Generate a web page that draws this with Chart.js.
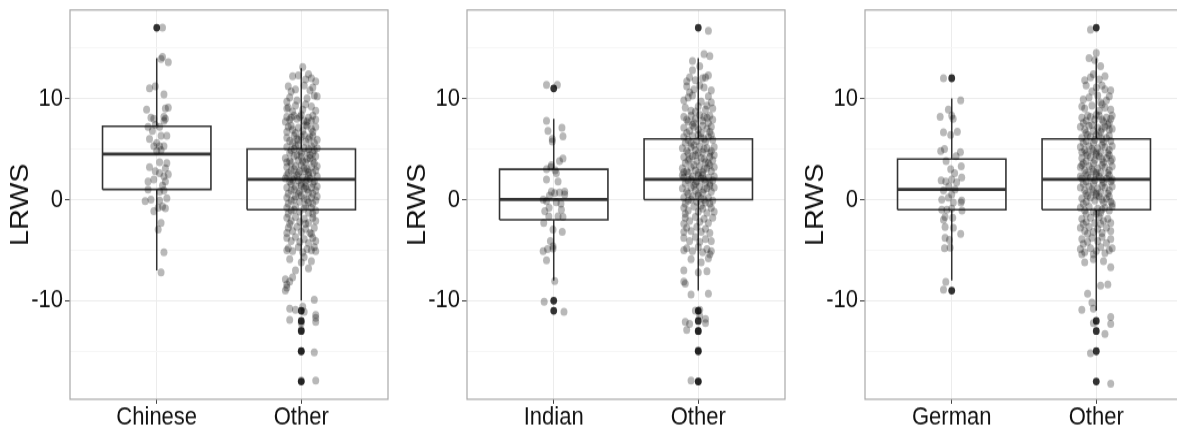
<!DOCTYPE html>
<html>
<head>
<meta charset="utf-8">
<script src="https://cdn.jsdelivr.net/npm/chart.js@4"></script>
<style>
  html, body { margin: 0; padding: 0; background: #fff; width: 1177px; height: 428px; overflow: hidden; position: relative; }
  canvas { position: absolute; top: 0; transform: scaleY(1.1505); transform-origin: 0 0; }
</style>
</head>
<body>
<canvas id="panel1" width="392" height="372" style="left:0px"></canvas>
<canvas id="panel2" width="392" height="372" style="left:397px"></canvas>
<canvas id="panel3" width="392" height="372" style="left:795px"></canvas>
<script>
const TICK_FONT = "'Liberation Sans', Arial, sans-serif";

// categories of each panel
const panelGroups = [['Chinese', 'Other'], ['Indian', 'Other'], ['German', 'Other']];

// box statistics: [group, Other] for each panel
const lowerWhisker = [[-7, -10], [-8, -9], [-8, -11]];
const lowerHinge = [[1, -1], [-2, 0], [-1, -1]];
const medians = [[4.5, 2], [0, 2], [1, 2]];
const upperHinge = [[7.25, 5], [3, 6], [4, 6]];
const upperWhisker = [[14, 13], [8, 14], [10, 14]];
const outliers = [
  [[17], [-11, -12, -13, -15, -18]],
  [[11, -10, -11], [17, -11, -12, -13, -15, -18]],
  [[12, -9], [17, -12, -13, -15, -18]]
];

const yTicks = [-15, -10, -5, 0, 5, 10, 15];

// jittered observations: [x offset, LRWS]
const chineseJitter = [
  [0.04,17.0],[0.04,14.1],[0.03,13.9],[0.08,13.6],[-0.05,11.0],[-0.01,11.2],[0.05,10.4],[-0.07,8.9],[0.06,9.0],[0.08,9.1],
  [-0.04,8.1],[-0.02,8.0],[0.05,8.2],[0.06,8.0],[-0.06,7.2],[-0.01,7.4],[0.02,7.2],[0.05,7.8],[-0.03,6.8],[-0.05,6.0],
  [0.03,6.3],[0.07,6.3],[0.0,5.6],[-0.02,5.3],[0.02,5.3],[0.05,5.3],[0.0,4.8],[0.03,4.9],[0.02,3.7],[0.07,3.6],
  [0.06,3.1],[-0.05,3.2],[-0.01,2.8],[0.02,2.6],[0.08,2.5],[0.05,2.3],[-0.06,1.8],[-0.02,2.0],[0.06,1.8],[0.04,1.4],
  [-0.06,1.0],[0.02,0.8],[0.05,0.9],[-0.08,-0.15],[-0.04,0.0],[0.02,-0.1],[0.07,0.15],[-0.02,-1.15],[0.01,-0.8],[0.04,-0.7],
  [0.06,-0.85],[0.03,-2.3],[0.01,-2.95],[0.05,-5.2],[0.03,-7.2]
];
const otherChineseJitter = [
  [0.01,13.1],
  [-0.06,12.2],[0.03,11.9],[0.07,12.0],[-0.02,12.3],[0.1,11.7],[0.05,12.4],
  [-0.09,11.2],[-0.04,10.9],[0.08,11.1],[0.02,11.3],[-0.07,10.7],[0.06,10.8],
  [-0.08,10.1],[0.09,10.3],[0.11,10.2],[-0.03,9.8],[0.04,10.0],[-0.1,9.7],
  [-0.09,9.1],[-0.04,9.3],[0.01,8.9],[0.07,9.2],[0.1,8.8],[-0.06,8.7],[0.03,9.4],[-0.1,9.0],
  [-0.1,8.2],[-0.08,7.9],[-0.05,8.3],[-0.03,8.0],[0.0,8.4],[0.02,7.8],[0.05,8.1],[0.08,8.3],[0.1,7.9],[-0.07,8.1],[0.04,7.7],[-0.01,8.2],[0.07,7.8],[-0.11,7.7],
  [-0.09,7.2],[-0.06,6.9],[-0.02,7.1],[0.01,6.8],[0.04,7.3],[0.07,7.0],[0.1,7.2],[-0.1,6.7],[0.03,7.4],[-0.04,6.6],[0.08,6.7],[-0.07,7.3],
  [-0.1,6.1],[-0.08,5.8],[-0.05,6.3],[-0.02,5.9],[0.0,6.2],[0.03,5.7],[0.05,6.0],[0.08,6.3],[0.11,5.9],[-0.06,5.6],[0.02,6.4],[0.09,5.6],[-0.03,6.0],[0.06,6.2],
  [-0.1,5.2],[-0.07,4.9],[-0.04,5.3],[-0.01,4.8],[0.02,5.1],[0.04,4.7],[0.07,5.3],[0.09,4.9],[0.11,5.1],[-0.08,4.6],[-0.02,5.4],[0.05,5.0],[0.0,4.6],[-0.05,5.0],[0.08,4.6],
  [-0.11,4.1],[-0.08,3.8],[-0.05,4.3],[-0.02,3.9],[0.0,4.2],[0.03,3.7],[0.06,4.1],[0.08,3.9],[0.1,4.3],[-0.07,3.6],[-0.03,4.4],[0.04,4.0],[0.09,3.6],[-0.1,3.7],[0.01,3.8],[0.06,4.4],
  [-0.1,3.2],[-0.07,2.9],[-0.04,3.3],[-0.01,2.8],[0.02,3.1],[0.05,2.7],[0.07,3.2],[0.1,2.9],[-0.09,2.6],[-0.05,3.0],[0.0,3.4],[0.04,3.0],[0.08,2.6],[-0.02,2.6],[0.11,3.3],[0.03,2.8],
  [-0.11,2.1],[-0.08,1.8],[-0.05,2.3],[-0.02,1.9],[0.01,2.2],[0.03,1.7],[0.06,2.1],[0.09,1.8],[0.11,2.3],[-0.07,1.6],[-0.03,2.4],[0.04,2.0],[0.08,1.6],[-0.1,2.4],[0.0,1.6],[0.05,2.4],[-0.06,2.0],
  [-0.1,1.2],[-0.07,0.9],[-0.04,1.3],[-0.01,0.8],[0.02,1.1],[0.05,0.7],[0.07,1.2],[0.1,0.9],[-0.09,0.6],[-0.05,1.0],[0.0,1.4],[0.04,1.0],[0.08,0.6],[-0.02,0.6],[0.11,1.3],[0.03,1.3],
  [-0.1,0.2],[-0.07,-0.1],[-0.04,0.3],[-0.01,-0.2],[0.02,0.1],[0.05,-0.3],[0.07,0.2],[0.1,-0.1],[-0.09,-0.4],[-0.05,0.0],[0.0,0.4],[0.04,0.0],[0.08,-0.4],[0.11,0.3],
  [-0.1,-0.8],[-0.07,-1.1],[-0.04,-0.7],[-0.01,-1.2],[0.02,-0.9],[0.05,-1.3],[0.07,-0.8],[0.1,-1.1],[-0.09,-1.4],[-0.05,-1.0],[0.03,-0.6],[0.08,-1.4],
  [-0.1,-1.8],[-0.07,-2.1],[-0.04,-1.7],[-0.01,-2.2],[0.02,-1.9],[0.05,-2.3],[0.08,-1.8],[0.1,-2.1],[-0.08,-2.4],[0.03,-2.4],
  [-0.09,-2.8],[-0.06,-3.1],[-0.03,-2.7],[0.0,-3.2],[0.03,-2.9],[0.06,-3.3],[0.09,-2.8],[-0.1,-3.3],[0.07,-3.4],
  [-0.1,-3.8],[-0.07,-4.1],[-0.04,-3.7],[-0.01,-4.2],[0.02,-3.9],[0.05,-4.3],[0.08,-3.8],[0.1,-4.1],
  [-0.09,-4.8],[-0.06,-5.1],[-0.02,-4.7],[0.01,-5.2],[0.04,-4.9],[0.07,-5.0],[0.1,-5.1],[-0.1,-5.0],[0.09,-4.7],
  [-0.08,-5.9],[0.0,-6.2],[0.02,-5.7],[0.07,-6.1],
  [0.05,-6.8],[-0.04,-7.0],
  [-0.11,-7.9],[-0.08,-8.1],[-0.1,-8.4],[-0.06,-7.7],
  [-0.11,-9.0],[-0.1,-8.7],
  [0.09,-9.9],
  [-0.08,-10.8],[-0.04,-10.9],[0.02,-11.1],[0.01,-10.6],[0.1,-11.4],
  [-0.08,-11.9],[0.0,-12.2],[0.1,-12.1],[0.1,-11.7],
  [0.0,-12.9],
  [0.09,-15.1],[0.0,-15.0],
  [0.0,-17.9],[0.1,-17.9]
];
const indianJitter = [
  [-0.05,11.35],[0.025,11.35],[-0.05,7.8],[-0.04,6.8],[0.057,7.1],[0.064,6.25],[-0.01,6.0],[-0.01,5.75],[0.064,4.05],[0.04,3.8],
  [-0.016,3.4],[-0.02,3.2],[-0.05,3.0],[0.01,2.9],[0.018,2.6],[-0.05,2.0],[0.03,1.8],[-0.016,0.8],[0.007,0.65],[0.04,0.7],
  [0.076,0.8],[0.076,0.5],[-0.03,0.4],[-0.073,0.0],[-0.05,-0.15],[0.018,-0.25],[0.05,-0.4],[-0.032,-0.8],[0.053,-1.0],[-0.062,-1.15],
  [-0.034,-1.65],[0.03,-1.65],[0.064,-1.7],[-0.069,-2.3],[-0.005,-2.95],[0.059,-3.2],[-0.023,-4.1],[-0.005,-4.6],[-0.073,-5.1],[-0.043,-4.9],
  [-0.005,-4.85],[-0.05,-6.0],[0.007,-8.05],[-0.066,-10.1],[0.071,-11.1]
];
const otherIndianJitter = [
  [0.07,16.7],
  [0.04,14.4],[0.08,14.2],[-0.04,13.7],
  [-0.04,12.8],[0.01,13.2],
  [-0.06,12.1],[0.03,12.0],[0.05,12.1],[-0.02,11.8],[-0.08,11.7],[0.07,12.3],
  [-0.08,11.2],[-0.03,10.9],[0.04,11.1],[0.09,10.8],[-0.06,10.6],[0.01,11.3],
  [-0.07,10.1],[0.07,10.2],[-0.1,9.8],[0.02,9.7],[0.09,9.6],[-0.04,10.3],
  [-0.09,9.1],[-0.05,8.8],[0.0,9.2],[0.05,8.9],[0.1,9.0],[-0.02,8.7],[0.06,9.3],
  [-0.1,8.2],[-0.08,7.9],[-0.05,8.3],[-0.02,8.0],[0.01,8.4],[0.03,7.8],[0.06,8.1],[0.08,8.3],[0.1,7.9],[-0.07,7.7],[0.04,8.2],[-0.03,7.6],[0.07,7.6],
  [-0.1,7.1],[-0.06,6.8],[-0.03,7.2],[0.0,6.9],[0.03,7.3],[0.06,7.0],[0.09,7.2],[-0.08,6.6],[0.02,6.6],[-0.04,7.4],[0.08,6.7],
  [-0.1,6.2],[-0.07,5.9],[-0.04,6.3],[-0.01,5.8],[0.02,6.1],[0.05,5.7],[0.07,6.2],[0.1,5.9],[-0.09,5.6],[0.0,6.4],[0.04,6.0],[-0.05,5.6],[0.09,6.4],
  [-0.11,5.1],[-0.08,4.8],[-0.05,5.2],[-0.02,4.9],[0.01,5.3],[0.03,4.7],[0.06,5.1],[0.09,4.8],[0.11,5.2],[-0.07,4.6],[-0.03,5.4],[0.04,5.0],[0.0,4.6],[0.08,4.6],
  [-0.1,4.2],[-0.07,3.9],[-0.04,4.3],[-0.01,3.8],[0.02,4.1],[0.05,3.7],[0.08,4.2],[0.1,3.9],[-0.09,3.6],[-0.02,4.4],[0.04,4.0],[0.07,3.6],[-0.06,4.0],[0.11,4.4],
  [-0.11,3.1],[-0.08,2.8],[-0.05,3.2],[-0.02,2.9],[0.01,3.3],[0.03,2.7],[0.06,3.1],[0.09,2.8],[0.11,3.2],[-0.07,2.6],[-0.03,3.4],[0.04,3.0],[0.0,2.6],[0.08,3.4],[-0.1,2.7],
  [-0.1,2.2],[-0.07,1.9],[-0.04,2.3],[-0.01,1.8],[0.02,2.1],[0.05,1.7],[0.07,2.2],[0.1,1.9],[-0.09,1.6],[-0.05,2.0],[0.0,2.4],[0.04,2.0],[0.08,1.6],[-0.02,1.6],[0.11,2.3],[0.03,2.4],[-0.11,2.4],
  [-0.11,1.1],[-0.08,0.8],[-0.05,1.2],[-0.02,0.9],[0.01,1.3],[0.03,0.7],[0.06,1.1],[0.09,0.8],[0.11,1.2],[-0.07,0.6],[-0.03,1.4],[0.04,1.0],[0.0,0.6],[0.08,1.4],
  [-0.1,0.2],[-0.07,-0.1],[-0.04,0.3],[-0.01,-0.2],[0.02,0.1],[0.05,-0.3],[0.07,0.2],[0.1,-0.1],[-0.09,-0.4],[-0.05,0.0],[0.0,0.4],[0.04,0.0],[0.08,-0.4],
  [-0.1,-0.8],[-0.07,-1.1],[-0.03,-0.7],[0.0,-1.2],[0.03,-0.9],[0.06,-1.3],[0.09,-0.8],[-0.09,-1.4],[0.02,-0.6],[0.11,-1.2],
  [-0.09,-1.8],[-0.06,-2.1],[-0.02,-1.7],[0.01,-2.2],[0.04,-1.9],[0.07,-2.3],[0.1,-1.8],[-0.1,-2.4],
  [-0.08,-2.8],[-0.05,-3.1],[-0.01,-2.7],[0.02,-3.2],[0.05,-2.9],[0.08,-3.3],[-0.1,-3.2],
  [-0.1,-3.8],[-0.06,-4.1],[-0.02,-3.7],[0.01,-4.2],[0.05,-3.9],[0.09,-4.1],
  [-0.08,-4.8],[-0.04,-5.1],[0.0,-4.7],[0.03,-5.2],[0.06,-4.9],[0.09,-5.1],[-0.1,-5.0],[0.08,-5.4],
  [-0.05,-5.9],[0.02,-6.2],[0.07,-5.8],
  [-0.1,-7.0],[0.0,-7.2],[0.06,-7.1],
  [-0.1,-8.1],[-0.09,-8.3],
  [0.07,-9.3],[-0.05,-9.4],
  [0.01,-10.9],[-0.02,-11.0],[0.05,-11.8],[0.01,-11.5],
  [-0.09,-12.1],[-0.06,-12.3],[0.05,-12.2],[-0.08,-12.9],
  [0.0,-13.0],
  [0.0,-14.9],
  [-0.05,-17.9],[0.0,-18.0]
];
const germanJitter = [
  [-0.057,12.0],[0.062,9.8],[-0.023,8.9],[-0.08,8.2],[0.0,8.3],[0.01,8.0],[-0.057,6.65],[0.039,6.7],[-0.007,6.4],[-0.076,4.8],
  [-0.05,5.0],[0.06,4.7],[0.03,4.3],[-0.039,3.8],[-0.007,3.0],[0.066,3.3],[0.02,2.6],[-0.073,1.9],[-0.041,1.8],[0.0,2.0],
  [0.034,1.7],[0.069,2.2],[-0.02,1.3],[-0.057,0.9],[0.0,0.5],[0.023,1.0],[-0.069,0.0],[-0.023,0.2],[0.011,-0.3],[0.069,-0.1],
  [0.064,-0.3],[-0.069,-1.0],[-0.034,-1.0],[0.0,-0.9],[0.071,-1.1],[-0.046,-1.7],[-0.057,-2.0],[0.007,-1.8],[-0.046,-2.7],[0.011,-2.8],
  [0.062,-3.4],[-0.046,-3.8],[-0.016,-4.0],[-0.05,-4.8],[-0.011,-4.75],[-0.041,-8.15],[-0.057,-8.9]
];
const otherGermanJitter = [
  [-0.04,16.8],
  [0.0,14.5],[-0.05,14.0],[-0.01,13.8],
  [0.03,13.2],
  [-0.02,12.4],[-0.08,11.8],[-0.04,12.1],[0.02,11.9],[0.06,12.2],
  [-0.07,11.3],[0.0,11.1],[0.06,10.9],[0.1,10.8],[-0.03,10.7],[0.04,11.3],
  [-0.09,9.9],[-0.05,10.1],[0.01,10.3],[0.07,9.8],[0.09,10.2],[0.03,9.6],
  [-0.08,9.0],[-0.03,9.3],[0.02,8.8],[0.06,9.1],[0.1,8.9],[-0.1,9.2],[0.04,9.4],
  [-0.1,8.1],[-0.07,7.8],[-0.04,8.2],[-0.01,7.9],[0.02,8.3],[0.05,7.7],[0.07,8.1],[0.1,8.0],[-0.09,7.6],[0.0,8.4],[0.04,7.9],[-0.06,8.3],[0.09,7.6],[0.11,8.3],
  [-0.11,7.2],[-0.08,6.9],[-0.05,7.3],[-0.02,6.8],[0.01,7.1],[0.03,6.7],[0.06,7.2],[0.09,6.9],[0.11,7.0],[-0.07,6.6],[-0.03,7.4],[0.04,7.0],[0.08,7.4],
  [-0.1,6.1],[-0.07,5.8],[-0.04,6.2],[-0.01,5.9],[0.02,6.3],[0.05,5.7],[0.07,6.1],[0.1,5.8],[-0.09,5.6],[0.0,6.4],[0.04,6.0],[-0.06,6.4],[0.09,6.3],[-0.02,5.6],
  [-0.11,5.2],[-0.08,4.9],[-0.05,5.3],[-0.02,4.8],[0.01,5.1],[0.03,4.7],[0.06,5.2],[0.09,4.9],[0.11,5.3],[-0.07,4.6],[-0.03,5.0],[0.04,5.4],[0.0,4.6],[0.08,4.6],[-0.1,4.7],
  [-0.1,4.1],[-0.07,3.8],[-0.04,4.2],[-0.01,3.9],[0.02,4.3],[0.05,3.7],[0.07,4.1],[0.1,3.8],[-0.09,3.6],[0.0,4.4],[0.04,4.0],[-0.06,4.4],[0.09,4.4],[-0.02,3.6],[0.11,4.0],
  [-0.11,3.2],[-0.08,2.9],[-0.05,3.3],[-0.02,2.8],[0.01,3.1],[0.03,2.7],[0.06,3.2],[0.09,2.9],[0.11,3.3],[-0.07,2.6],[-0.03,3.0],[0.04,3.4],[0.0,2.6],[0.08,2.6],[-0.1,3.4],
  [-0.1,2.1],[-0.07,1.8],[-0.04,2.2],[-0.01,1.9],[0.02,2.3],[0.05,1.7],[0.07,2.1],[0.1,1.8],[-0.09,1.6],[0.0,2.4],[0.04,2.0],[-0.06,2.4],[0.09,2.4],[-0.02,1.6],[0.11,2.0],[-0.11,2.3],
  [-0.11,1.2],[-0.08,0.9],[-0.05,1.3],[-0.02,0.8],[0.01,1.1],[0.03,0.7],[0.06,1.2],[0.09,0.9],[0.11,1.3],[-0.07,0.6],[-0.03,1.0],[0.04,1.4],[0.0,0.6],[0.08,0.6],
  [-0.1,0.1],[-0.07,-0.2],[-0.04,0.2],[-0.01,-0.1],[0.02,0.3],[0.05,-0.3],[0.07,0.1],[0.1,-0.2],[-0.09,-0.4],[0.0,0.4],[0.04,0.0],[-0.06,0.4],[0.09,0.3],[0.11,-0.4],
  [-0.11,-0.8],[-0.08,-1.1],[-0.05,-0.7],[-0.02,-1.2],[0.01,-0.9],[0.03,-1.3],[0.06,-0.8],[0.09,-1.1],[0.11,-0.7],[-0.07,-1.4],[0.04,-1.0],[0.0,-1.4],
  [-0.1,-1.9],[-0.07,-2.2],[-0.04,-1.8],[-0.01,-2.3],[0.02,-1.7],[0.05,-2.1],[0.08,-1.9],[0.1,-2.3],[-0.09,-2.4],[0.03,-2.4],
  [-0.11,-2.8],[-0.08,-3.1],[-0.05,-2.7],[-0.02,-3.2],[0.01,-2.9],[0.04,-3.3],[0.07,-2.8],[0.1,-3.1],[-0.06,-3.4],
  [-0.1,-3.9],[-0.06,-4.2],[-0.03,-3.8],[0.01,-4.1],[0.04,-3.7],[0.07,-4.3],[0.1,-3.9],[-0.09,-4.4],
  [-0.11,-4.9],[-0.08,-5.2],[-0.04,-4.8],[0.0,-5.1],[0.03,-4.7],[0.06,-5.3],[0.09,-5.0],[-0.02,-5.4],[0.11,-4.8],[-0.1,-5.4],
  [-0.08,-6.2],[-0.02,-5.9],[0.05,-6.1],[0.1,-6.7],
  [0.03,-8.5],[0.08,-8.4],
  [-0.06,-9.3],
  [-0.03,-10.2],
  [-0.1,-10.9],[-0.02,-10.8],
  [-0.02,-12.2],[0.1,-11.6],[0.1,-12.3],
  [0.06,-13.3],
  [-0.04,-15.2],
  [0.1,-18.2]
];

const panelJitter = [
  [chineseJitter, otherChineseJitter],
  [indianJitter, otherIndianJitter],
  [germanJitter, otherGermanJitter]
];

const BOX_WIDTH = 0.75;
const LINE_COLOR = '#333333';

// border around each plotting panel
const panelFrame = {
  id: 'panelFrame',
  afterDatasetsDraw(chart) {
    const { ctx, chartArea: a } = chart;
    ctx.save();
    ctx.strokeStyle = '#a9a9a9';
    ctx.lineWidth = 1.2;
    ctx.strokeRect(a.left, a.top, a.right - a.left, a.bottom - a.top);
    ctx.restore();
  }
};

function segment(points, width) {
  return {
    data: points,
    showLine: true,
    borderColor: LINE_COLOR,
    borderWidth: width,
    borderJoinStyle: 'miter',
    pointRadius: 0,
    fill: false,
    order: 2
  };
}

function drawPanel(canvasId, p) {
  const names = panelGroups[p];
  const datasets = [];

  names.forEach((name, g) => {
    const x = g + 1;
    const half = BOX_WIDTH / 2;
    const lo = lowerHinge[p][g], hi = upperHinge[p][g];

    // jittered points on top
    datasets.push({
      data: panelJitter[p][g].map(([dx, y]) => ({ x: x + dx, y })),
      pointRadius: 3.5,
      pointBackgroundColor: 'rgba(0,0,0,0.28)',
      pointBorderWidth: 0,
      showLine: false,
      order: 0
    });
    // boxplot outliers
    datasets.push({
      data: outliers[p][g].map(y => ({ x, y })),
      pointRadius: 3.4,
      pointBackgroundColor: 'rgba(0,0,0,0.8)',
      pointBorderWidth: 0,
      showLine: false,
      order: 1
    });
    // whiskers
    datasets.push(segment([{ x, y: hi }, { x, y: upperWhisker[p][g] }], 1.5));
    datasets.push(segment([{ x, y: lowerWhisker[p][g] }, { x, y: lo }], 1.5));
    // box
    datasets.push(segment([
      { x: x - half, y: lo }, { x: x + half, y: lo },
      { x: x + half, y: hi }, { x: x - half, y: hi },
      { x: x - half, y: lo }
    ], 1.6));
    // median
    datasets.push(segment([{ x: x - half, y: medians[p][g] }, { x: x + half, y: medians[p][g] }], 2.8));
  });

  new Chart(document.getElementById(canvasId), {
    type: 'scatter',
    data: { datasets },
    plugins: [panelFrame],
    options: {
      responsive: false,
      animation: false,
      events: [],
      layout: { padding: { top: 8.7, right: 2, left: 0, bottom: 0 } },
      plugins: { legend: { display: false }, tooltip: { enabled: false } },
      scales: {
        x: {
          type: 'linear',
          min: 0.4,
          max: 2.6,
          afterBuildTicks: s => { s.ticks = [{ value: 1 }, { value: 2 }]; },
          afterFit: s => { s.height = 25; s.paddingLeft = 0; s.paddingRight = 0; },
          ticks: {
            autoSkip: false,
            maxRotation: 0,
            padding: -1,
            color: '#111',
            font: { family: TICK_FONT, size: 22 },
            callback: (v, i) => names[i]
          },
          grid: { color: '#ececec', lineWidth: 1, tickColor: '#444', tickLength: 4 },
          border: { display: false }
        },
        y: {
          min: -19.75,
          max: 18.75,
          afterBuildTicks: s => { s.ticks = yTicks.map(v => ({ value: v })); },
          afterFit: s => { s.width = 70; s.paddingTop = 0; s.paddingBottom = 0; },
          ticks: {
            autoSkip: false,
            padding: 2,
            color: '#111',
            font: { family: TICK_FONT, size: 22 },
            callback: v => (v % 10 === 0 ? String(v) : '')
          },
          grid: {
            color: c => (c.tick && c.tick.value % 10 === 0 ? '#ececec' : '#f6f6f6'),
            tickColor: c => (c.tick && c.tick.value % 10 === 0 ? '#444' : 'rgba(0,0,0,0)'),
            tickLength: 5,
            lineWidth: 1
          },
          border: { display: false },
          title: {
            display: true,
            text: 'LRWS',
            color: '#111',
            font: { family: TICK_FONT, size: 25 },
            padding: { top: 6, bottom: 0 }
          }
        }
      }
    }
  });
}

drawPanel('panel1', 0);
drawPanel('panel2', 1);
drawPanel('panel3', 2);
</script>
</body>
</html>
